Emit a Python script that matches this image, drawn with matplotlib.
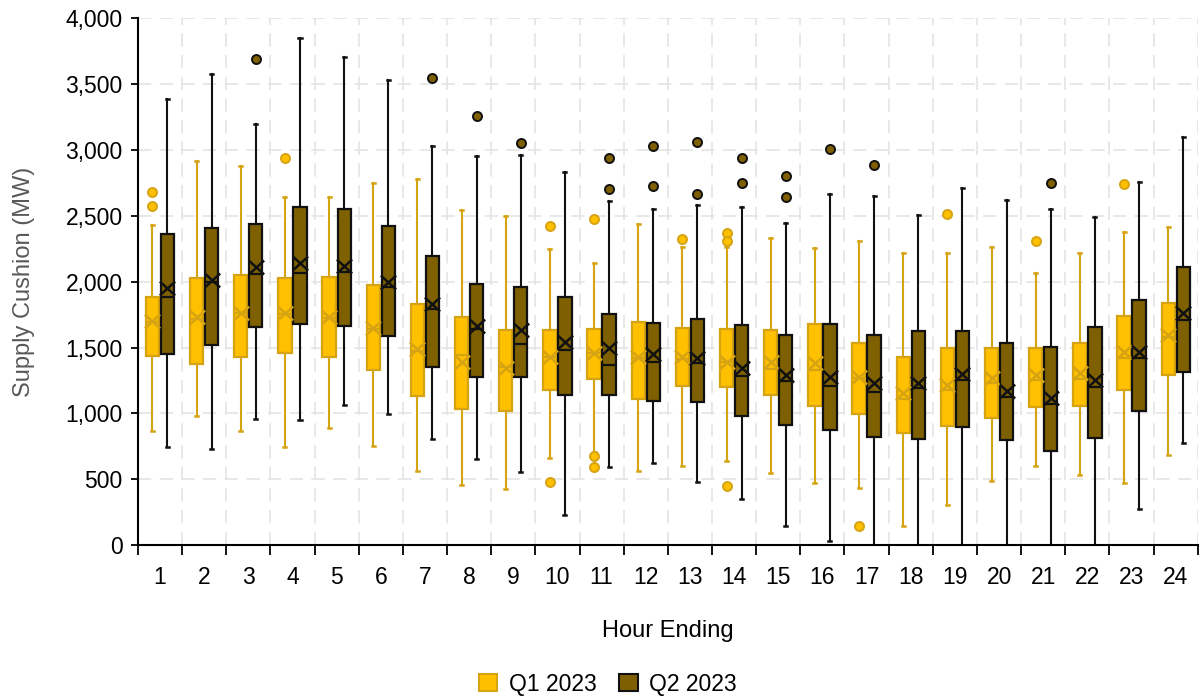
import matplotlib
matplotlib.use("Agg")
import matplotlib.pyplot as plt
from matplotlib.patches import Patch
from matplotlib.path import Path
from matplotlib.ticker import FuncFormatter, MultipleLocator

plt.rcParams['font.family'] = ['Liberation Sans', 'DejaVu Sans']

hours = list(range(1, 25))

# Q1 2023 box stats (MW)
q1_lo = [866, 980, 866, 744, 888, 755, 560, 457, 425, 660, 710, 562,
         598, 636, 550, 474, 433, 146, 303, 485, 604, 533, 474, 682]
q1_q1 = [1432, 1372, 1427, 1456, 1427, 1329, 1129, 1037, 1015, 1175, 1259, 1110,
         1205, 1197, 1137, 1056, 996, 853, 907, 966, 1048, 1056, 1178, 1294]
q1_med = [1690, 1720, 1760, 1755, 1725, 1640, 1475, 1445, 1350, 1425, 1455, 1420,
          1415, 1390, 1340, 1330, 1265, 1110, 1180, 1227, 1252, 1258, 1417, 1580]
q1_q3 = [1887, 2030, 2052, 2030, 2033, 1971, 1833, 1732, 1632, 1632, 1638, 1692,
         1649, 1643, 1632, 1678, 1538, 1429, 1494, 1494, 1497, 1538, 1738, 1835]
q1_hi = [2428, 2918, 2880, 2645, 2639, 2750, 2780, 2545, 2501, 2247, 2139, 2439,
         2260, 2266, 2333, 2252, 2306, 2217, 2214, 2260, 2063, 2220, 2374, 2417]
q1_mean = [1700, 1730, 1763, 1760, 1733, 1647, 1488, 1391, 1348, 1429, 1455, 1427,
           1429, 1391, 1391, 1379, 1273, 1157, 1214, 1265, 1290, 1303, 1467, 1594]
q1_out = [[2677, 2574], [], [], [2937], [], [], [], [], [], [2426, 482], [2474, 676, 592], [],
          [2323], [2371, 2309, 447], [], [], [149], [], [2515], [], [2309], [], [2740], []]

# Q2 2023 box stats (MW)
q2_lo = [747, 731, 961, 947, 1064, 996, 804, 655, 558, 227, 592, 622,
         479, 347, 149, 32, -100, -100, -100, -100, -100, -100, 276, 777]
q2_q1 = [1448, 1519, 1659, 1676, 1665, 1589, 1353, 1278, 1278, 1140, 1137, 1091,
         1088, 977, 912, 874, 820, 809, 893, 799, 712, 812, 1021, 1313]
q2_med = [1880, 2000, 2057, 2064, 2075, 1960, 1790, 1640, 1523, 1480, 1366, 1391,
          1379, 1283, 1247, 1207, 1164, 1191, 1252, 1121, 1068, 1202, 1423, 1708]
q2_q3 = [2363, 2404, 2436, 2563, 2550, 2423, 2193, 1984, 1963, 1881, 1754, 1684,
         1714, 1673, 1597, 1678, 1592, 1624, 1624, 1538, 1502, 1657, 1860, 2114]
q2_hi = [3384, 3579, 3200, 3852, 3706, 3533, 3026, 2951, 2959, 2834, 2612, 2550,
         2582, 2569, 2442, 2666, 2653, 2507, 2712, 2618, 2550, 2490, 2753, 3097]
q2_mean = [1950, 2011, 2110, 2143, 2118, 1999, 1834, 1662, 1632, 1543, 1493, 1450,
           1423, 1348, 1290, 1278, 1227, 1227, 1298, 1172, 1118, 1252, 1467, 1763]
q2_out = [[], [], [3692], [], [], [], [3543], [3254], [3051], [], [2937, 2702], [3029, 2729],
          [3059, 2669], [2937, 2748], [2802, 2639], [3005], [2883], [], [], [], [2748], [], [], []]

series = [
    dict(label="Q1 2023", lo=q1_lo, q1=q1_q1, med=q1_med, q3=q1_q3, hi=q1_hi,
         mean=q1_mean, out=q1_out, fill="#FFC000", edge="#D6A312", line="#D6A312", off=-0.17),
    dict(label="Q2 2023", lo=q2_lo, q1=q2_q1, med=q2_med, q3=q2_q3, hi=q2_hi,
         mean=q2_mean, out=q2_out, fill="#7F6000", edge="#111111", line="#111111", off=0.17),
]

# "X" used for the mean
mean_marker = Path([(-1.1, -1), (1.1, 1), (-1.1, 1), (1.1, -1)],
                   [Path.MOVETO, Path.LINETO, Path.MOVETO, Path.LINETO])

fig, ax = plt.subplots(figsize=(11.99, 6.98), dpi=100)
fig.subplots_adjust(left=0.115, right=0.999, top=0.974, bottom=0.219)

for s in series:
    stats = []
    for i in range(len(hours)):
        stats.append(dict(whislo=s["lo"][i], q1=s["q1"][i], med=s["med"][i],
                          q3=s["q3"][i], whishi=s["hi"][i], mean=s["mean"][i],
                          fliers=s["out"][i]))
    pos = [h + s["off"] for h in hours]
    ax.bxp(stats, positions=pos, widths=0.3, patch_artist=True, showmeans=True,
           capwidths=0.07,
           boxprops=dict(facecolor=s["fill"], edgecolor=s["edge"], linewidth=1.6),
           medianprops=dict(color=s["line"], linewidth=1.6),
           whiskerprops=dict(color=s["line"], linewidth=1.5),
           capprops=dict(color=s["line"], linewidth=1.8),
           meanprops=dict(marker=mean_marker, markersize=11, markerfacecolor="none",
                          markeredgecolor=s["line"], markeredgewidth=1.8),
           flierprops=dict(marker="o", markersize=6.5, markerfacecolor=s["fill"],
                           markeredgecolor=s["edge"], markeredgewidth=1.4),
           manage_ticks=False, zorder=3)

ax.set_xlim(0.5, 24.5)
ax.set_ylim(0, 4000)
ax.yaxis.set_major_locator(MultipleLocator(500))
ax.yaxis.set_major_formatter(FuncFormatter(lambda v, p: f"{int(v):,}"))
ax.set_xticks(hours)
ax.set_xticklabels([str(h) for h in hours])
ax.set_xticks([h + 0.5 for h in range(0, 25)], minor=True)

ax.tick_params(axis="x", which="major", length=0, pad=15, labelsize=16.5)
ax.tick_params(axis="x", which="minor", length=7, width=1.3, direction="out")
ax.tick_params(axis="y", which="major", length=5, width=1.3, pad=6, labelsize=16.5)

ax.grid(True, axis="y", which="major", color="#e4e4e4", linestyle=(0, (8, 5)), linewidth=1.2)
ax.grid(True, axis="x", which="minor", color="#e4e4e4", linestyle=(0, (8, 5)), linewidth=1.2)
ax.set_axisbelow(True)

for side in ("top", "right"):
    ax.spines[side].set_visible(False)
for side in ("left", "bottom"):
    ax.spines[side].set_linewidth(1.5)
    ax.spines[side].set_zorder(4)

ax.set_xlabel("Hour Ending", fontsize=17, labelpad=22)
ax.set_ylabel("Supply Cushion (MW)", fontsize=17, color="#595959", labelpad=22)

handles = [Patch(facecolor=s["fill"], edgecolor=s["edge"], linewidth=1.5, label=s["label"])
           for s in series]
fig.legend(handles=handles, loc="lower center", bbox_to_anchor=(0.507, -0.026), ncol=2,
           frameon=False, fontsize=16.5, handlelength=0.8, handleheight=0.8,
           handletextpad=0.5, columnspacing=1.0)

fig.savefig("out.png", dpi=100)
